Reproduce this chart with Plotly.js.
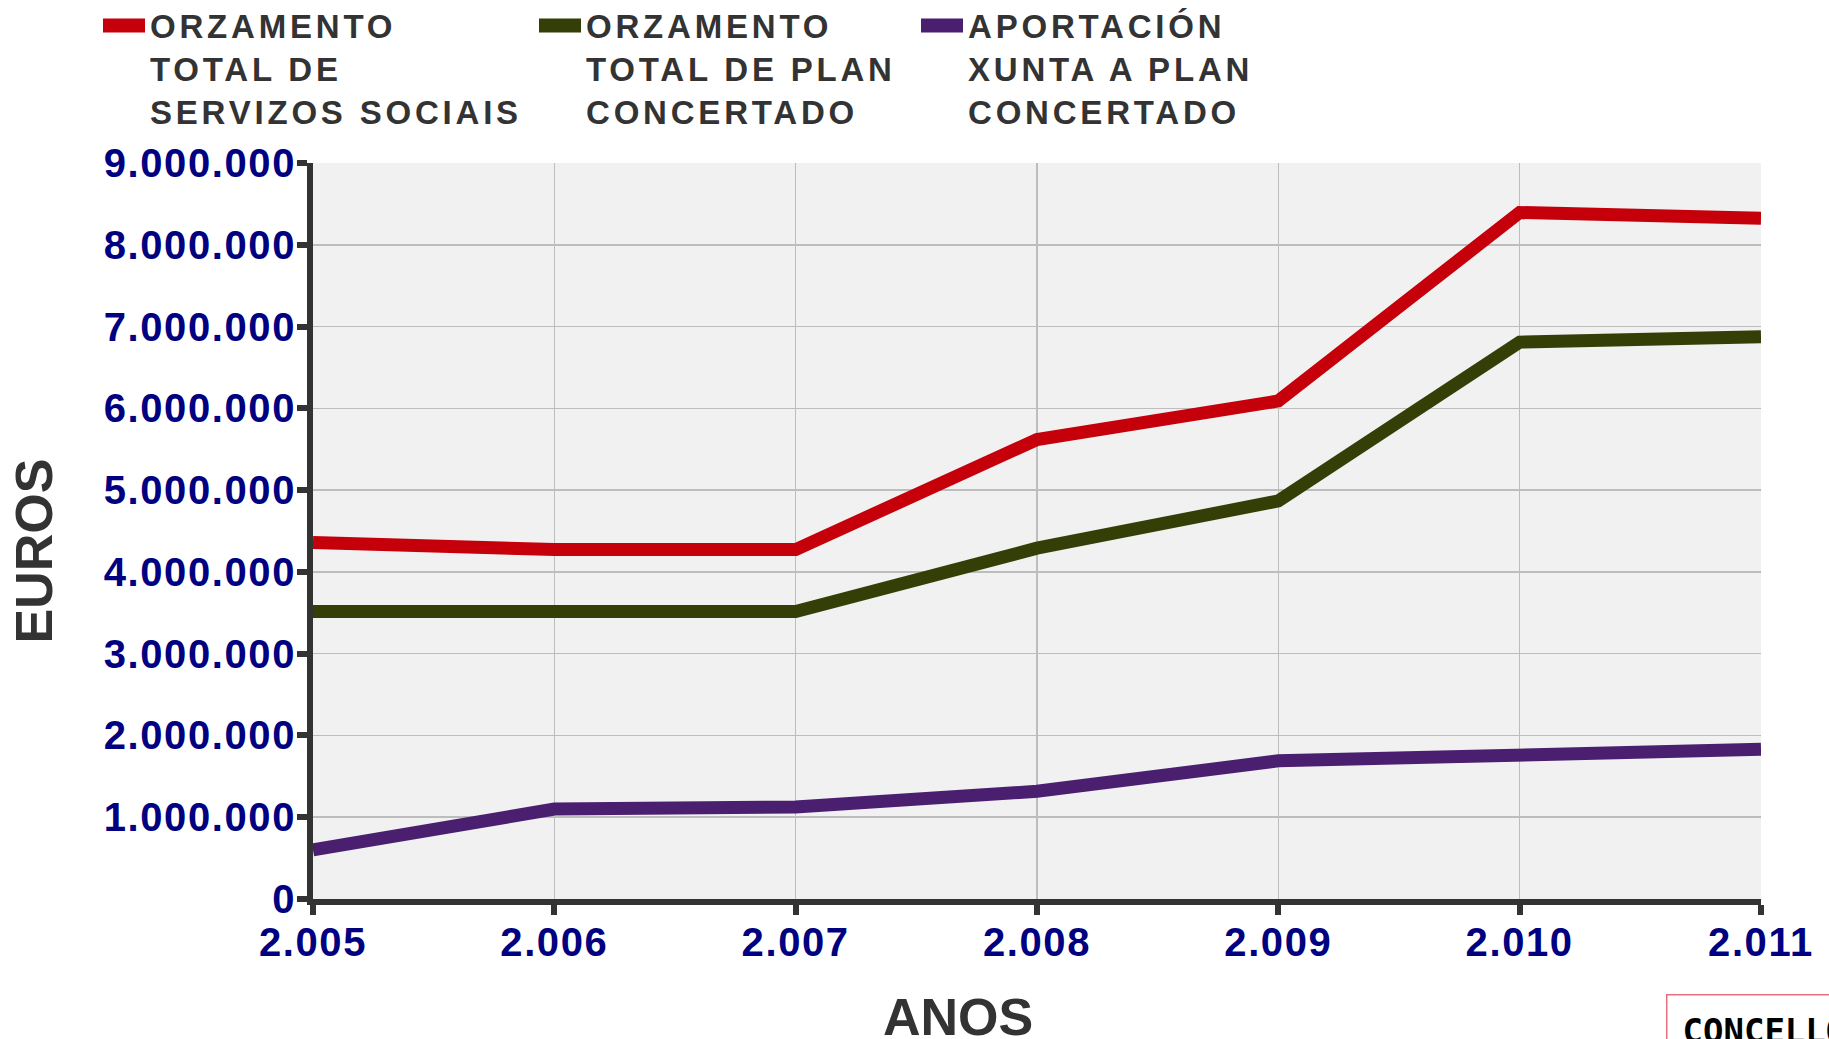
<!DOCTYPE html>
<html><head><meta charset="utf-8">
<script src="https://cdn.plot.ly/plotly-3.0.1.min.js"></script>
<style>
html,body{margin:0;padding:0;background:#fff;}
#chart{width:1829px;height:1039px;}
.xtick text,.ytick text{letter-spacing:1.6px;}
</style></head><body><div id="chart"></div>
<script>
const years = [2005, 2006, 2007, 2008, 2009, 2010, 2011];
const orzamentoServizos = [4358000, 4273000, 4273000, 5618000, 6090000, 8395000, 8324000];
const orzamentoPlan = [3515000, 3515000, 3515000, 4290000, 4868000, 6810000, 6875000];
const aportacionXunta = [600000, 1100000, 1125000, 1317000, 1690000, 1770000, 1830000];
const seriesNames = [
  'ORZAMENTO<br>TOTAL DE<br>SERVIZOS SOCIAIS',
  'ORZAMENTO<br>TOTAL DE PLAN<br>CONCERTADO',
  'APORTACIÓN<br>XUNTA A PLAN<br>CONCERTADO'
];
const yTicks = [0, 1000000, 2000000, 3000000, 4000000, 5000000, 6000000, 7000000, 8000000, 9000000];
const yTitle = 'EUROS';
const xTitle = 'ANOS';
const footerText = 'CONCELLO';

const colors = ['#c5000b', '#333f06', '#4b1f6f'];
const seriesValues = [orzamentoServizos, orzamentoPlan, aportacionXunta];
const legendIds = ['legend', 'legend2', 'legend3'];

const traces = seriesValues.map((vals, i) => ({
  type: 'scatter', mode: 'lines', x: years, y: vals, name: seriesNames[i],
  line: {color: colors[i], width: 13, shape: 'linear'},
  legend: legendIds[i], hoverinfo: 'x+y'
}));

const W = 1829, H = 1039;
const legendFont = {family: 'Liberation Sans, Arial, sans-serif', size: 33, color: '#333333', weight: 'bold'};
function mkLegend(xpx) {
  return {xref: 'container', yref: 'paper', x: xpx / W, y: (899 + 2.5) / 736, xanchor: 'left', yanchor: 'top',
    orientation: 'h', entrywidth: 420, valign: 'top', itemwidth: 42, font: legendFont, bgcolor: 'rgba(0,0,0,0)',
    borderwidth: 0, tracegroupgap: 0};
}

const tickFont = {family: 'Liberation Sans, Arial, sans-serif', size: 40, color: '#000080', weight: 'bold'};
const titleFont = {family: 'Liberation Sans, Arial, sans-serif', size: 52, color: '#333333', weight: 'bold'};

const layout = {
  width: W, height: H,
  margin: {l: 313, r: 68, t: 163, b: 140, pad: 0, autoexpand: false},
  paper_bgcolor: '#ffffff', plot_bgcolor: '#f1f1f1',
  separators: ',.',
  showlegend: true,
  legend: mkLegend(98), legend2: mkLegend(534), legend3: mkLegend(916),
  xaxis: {
    range: [2005, 2011], tickvals: years, tickformat: ',d', automargin: false,
    showline: true, linecolor: '#333333', linewidth: 6,
    ticks: 'outside', ticklen: 10, tickwidth: 6, tickcolor: '#333333', ticklabelstandoff: -7,
    showgrid: true, gridcolor: '#bdbdbd', gridwidth: 1.5, zeroline: false,
    tickfont: tickFont, fixedrange: true
  },
  yaxis: {
    range: [0, 9000000], tickvals: yTicks, tickformat: ',d', automargin: false,
    showline: true, linecolor: '#333333', linewidth: 6,
    ticks: 'outside', ticklen: 10, tickwidth: 6, tickcolor: '#333333', ticklabelstandoff: -7,
    showgrid: true, gridcolor: '#bdbdbd', gridwidth: 1.5, zeroline: false,
    tickfont: tickFont, fixedrange: true
  },
  annotations: [
    {xref: 'paper', yref: 'paper', x: (33.5 - 313) / 1448, y: (899 - 551) / 736, xanchor: 'center', yanchor: 'middle',
     text: yTitle, textangle: -90, showarrow: false, font: titleFont},
    {xref: 'paper', yref: 'paper', x: (958 - 313) / 1448, y: (899 - 1017) / 736, xanchor: 'center', yanchor: 'middle',
     text: xTitle, showarrow: false, font: titleFont},
    {xref: 'paper', yref: 'paper', x: (1666 - 313) / 1448, y: (899 - 994) / 736, xanchor: 'left', yanchor: 'top',
     text: footerText, showarrow: false, bordercolor: '#e8707a', borderwidth: 1.5, borderpad: 15,
     font: {family: 'DejaVu Sans Mono, monospace', size: 34, color: '#000000', weight: 'bold'}}
  ]
};

Plotly.newPlot('chart', traces, layout, {displayModeBar: false, staticPlot: true}).then(gd => {
  gd.querySelectorAll('.infolayer g[class^="legend"] text').forEach(t => { t.style.letterSpacing = '3.8px'; });
  gd.querySelectorAll('.infolayer g[class^="legend"] [clip-path]').forEach(e => e.removeAttribute('clip-path'));
  gd.querySelectorAll('.infolayer g[class^="legend"] .legendlines path').forEach(p => {
    p.style.strokeWidth = '14px'; p.setAttribute('stroke-width', '14');
  });
});
</script></body></html>
